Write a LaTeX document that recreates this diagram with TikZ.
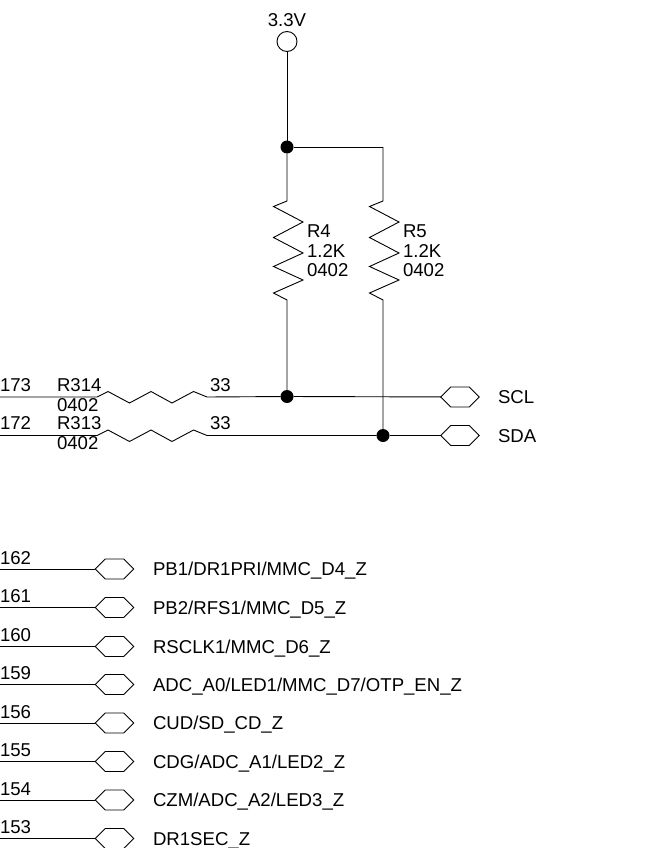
\documentclass[tikz,border=0pt]{standalone}
\usepackage{fontspec}
\setmainfont{Liberation Sans}
\usetikzlibrary{shapes.symbols}
\tikzset{
  wire/.style={line width=0.9pt,black},
  lbl/.style={inner sep=0pt,outer sep=0pt,anchor=base west,font=\fontsize{18.6}{22}\selectfont,text=black},
  hexport/.style={draw,line width=0.9pt,shape=signal,signal to=east and west,signal pointer angle=90,minimum width=38.5pt,minimum height=20pt,inner sep=0pt,outer sep=0pt},
  netdot/.style={circle,fill=black,draw=none,minimum size=13pt,inner sep=0pt,outer sep=0pt},
  rail/.style={circle,draw,line width=0.9pt,fill=white,minimum size=20pt,inner sep=0pt,outer sep=0pt},
}
\begin{document}
\begin{tikzpicture}[x=1pt,y=-1pt]
\useasboundingbox (0,0) rectangle (655,848);
% supply
\node[rail] (vcc) at (287,41.5) {};
\node[lbl,anchor=base] (vcclbl) at (287,27) {3.3V};
\node[netdot] (top) at (287,147) {};
\coordinate (r5top) at (383,147);
\draw[wire] (vcc) -- (top);
\draw[wire] (top) -- (r5top);
% nets
\coordinate (sclstart) at (0,397);
\coordinate (sdastart) at (0,435.5);
\node[netdot] (scldot) at (287,396.5) {};
\node[netdot] (sdadot) at (383,435.5) {};
\node[hexport] (scl) at (460,397) {};
\node[hexport] (sda) at (460,435.5) {};
% vertical resistors
\draw[wire] (top) -- (287,201) -- (273.5,206.5) -- (303,222) -- (273.5,237.5) -- (303,253) -- (273.5,266.5) -- (303,280) -- (273.5,293) -- (287,300) -- (scldot);
\draw[wire] (r5top) -- (383,201) -- (369.5,206.5) -- (399,222) -- (369.5,237.5) -- (399,253) -- (369.5,266.5) -- (399,280) -- (369.5,293) -- (383,300) -- (sdadot);
% horizontal resistors
\draw[wire] (sclstart) -- (97,397) -- (108,391.5) -- (129.5,403) -- (151,391.5) -- (172,403) -- (193.5,391.5) -- (207,397) -- (scldot);
\draw[wire] (sdastart) -- (97,435.5) -- (108,430) -- (129.5,441.5) -- (151,430) -- (172,441.5) -- (193.5,430) -- (207,435.5) -- (sdadot);
\draw[wire] (scldot) -- (scl);
\draw[wire] (sdadot) -- (sda);
% labels
\node[lbl] (r4a) at (307,237.5) {R4};
\node[lbl] (r4b) at (307,257) {1.2K};
\node[lbl] (r4c) at (307,276) {0402};
\node[lbl] (r5a) at (403,237.5) {R5};
\node[lbl] (r5b) at (403,257) {1.2K};
\node[lbl] (r5c) at (403,276) {0402};
\node[lbl] (p173) at (0,391) {173};
\node[lbl] (r314) at (57,391) {R314};
\node[lbl] (r314f) at (57,411) {0402};
\node[lbl] (v314) at (210,391) {33};
\node[lbl] (p172) at (0,429) {172};
\node[lbl] (r313) at (57,429) {R313};
\node[lbl] (r313f) at (57,449) {0402};
\node[lbl] (v313) at (210,429) {33};
\node[lbl] (sclt) at (498,403) {SCL};
\node[lbl] (sdat) at (498,442) {SDA};
% lower bus
\foreach \yy/\pin/\name in {
 569/162/{PB1/DR1PRI/MMC\_D4\_Z},
 607.5/161/{PB2/RFS1/MMC\_D5\_Z},
 646.5/160/{RSCLK1/MMC\_D6\_Z},
 684.5/159/{ADC\_A0/LED1/MMC\_D7/OTP\_EN\_Z},
 723/156/{CUD/SD\_CD\_Z},
 761.5/155/{CDG/ADC\_A1/LED2\_Z},
 800/154/{CZM/ADC\_A2/LED3\_Z},
 838.5/153/{DR1SEC\_Z}}{
  \coordinate (s\pin) at (0,\yy);
  \node[hexport] (h\pin) at (114.5,\yy) {};
  \draw[wire] (s\pin) -- (h\pin);
  \node[lbl] (n\pin) at (0,\yy-5) {\pin};
  \node[lbl] (t\pin) at (153,\yy+6.5) {\name};
}
\end{tikzpicture}
\end{document}
